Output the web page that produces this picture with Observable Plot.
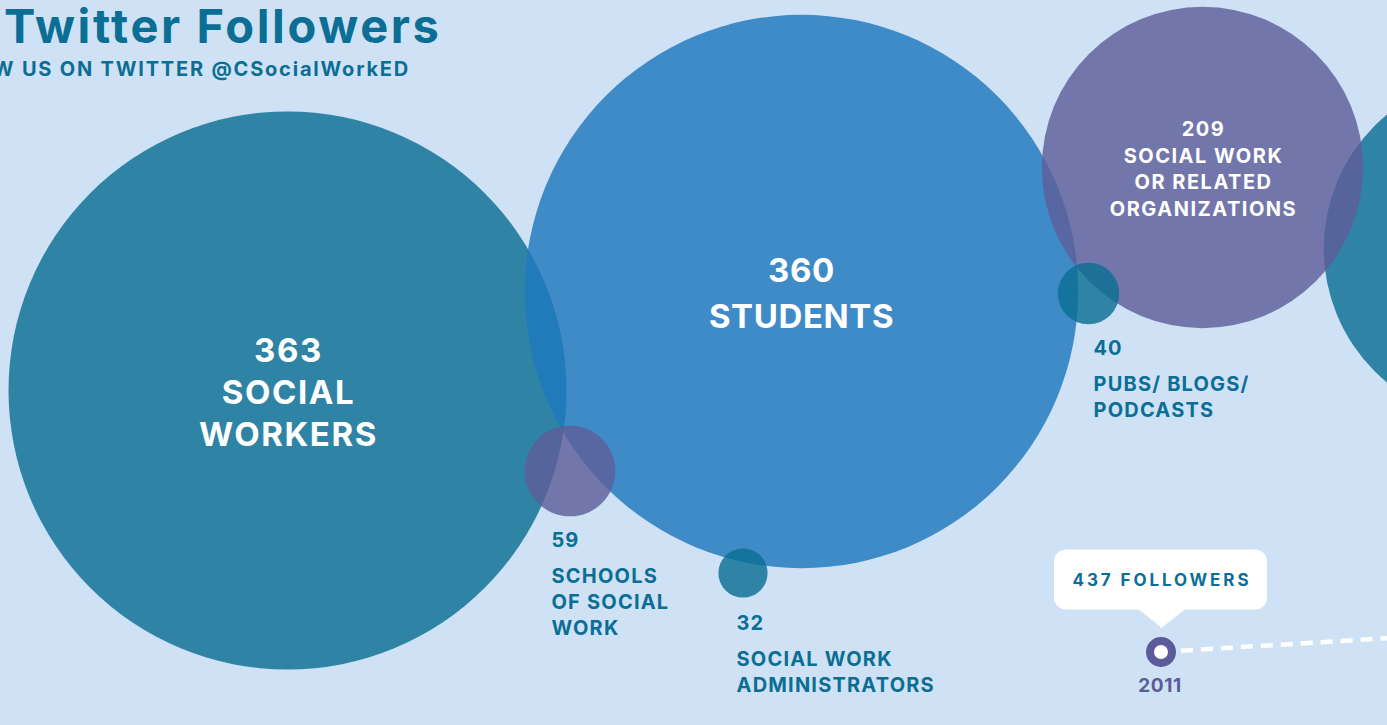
<!DOCTYPE html>
<html>
<head>
<meta charset="utf-8">
<script src="https://cdn.jsdelivr.net/npm/d3@7"></script>
<script src="https://cdn.jsdelivr.net/npm/@observablehq/plot@0.6"></script>
<style>
  html, body { margin: 0; padding: 0; background: #cfe2f5; overflow: hidden; }
  #wrap { position: relative; width: 1387px; height: 725px; overflow: hidden; }
  #wrap svg { position: absolute; left: 0; top: 0; overflow: hidden; }
  .t { position: absolute; font-family: Inter, "Open Sans", sans-serif; font-weight: 700; color: #0b6e94; white-space: nowrap; }
  #title { left: 4px; top: 2px; font-size: 47px; line-height: 47px; letter-spacing: 2.6px; }
  #subtitle { right: 977px; top: 57px; font-size: 20px; line-height: 24px; letter-spacing: 1.8px; }
</style>
</head>
<body>
<div id="wrap">
  <div id="chart"></div>
  <div class="t" id="title">Twitter Followers</div>
  <div class="t" id="subtitle">FOLLOW US ON TWITTER @CSocialWorkED</div>
</div>
<script>
// ---- data ----
const categories = ["Social Workers", "Students", "Social Work or Related Organizations",
  "Schools of Social Work", "Social Work Administrators", "Pubs/ Blogs/ Podcasts", "Next year"];
const followers = [363, 360, 209, 59, 32, 40, 226];
const labels = ["SOCIAL\nWORKERS", "STUDENTS", "SOCIAL WORK\nOR RELATED\nORGANIZATIONS",
  "SCHOOLS\nOF SOCIAL\nWORK", "SOCIAL WORK\nADMINISTRATORS", "PUBS/ BLOGS/\nPODCASTS", ""];
const groups = ["teal", "blue", "purple", "purple", "teal", "teal", "teal"];
const timelineYears = [2011];
const timelineFollowers = [437];

// ---- layout (bubble centres / label anchors in page pixels) ----
const bubbleX = [287, 801, 1202, 569.5, 742.5, 1088, 1497];
const bubbleY = [390, 291, 167, 470.5, 572.5, 293, 248];
const labelPlace = ["big", "big2", "small", "out", "out", "out", "none"];
const outX = [null, null, null, 551, 736, 1093, null];
const outY = [null, null, null, 540, 623, 348, null];
const timelineX = [1160.5];
const timelineY = [651.5];

const palette = {teal: "#0b6f95", blue: "#1f78be", purple: "#5e5e9a"};
const ink = "#0b6e94";
const purpleInk = "#5b5b99";

const bubbles = categories.map((c, i) => ({
  category: c, value: followers[i], label: labels[i], group: groups[i],
  cx: bubbleX[i], cy: bubbleY[i], place: labelPlace[i], ox: outX[i], oy: outY[i]
}));
const timeline = timelineYears.map((y, i) => ({year: y, followers: timelineFollowers[i], x: timelineX[i], y: timelineY[i]}));

const font = "Inter, 'Open Sans', sans-serif";
// letter-spacing for the text marks, in the order they are drawn
const textSpacing = [1.6, 0.6, 1.5, 1, 1.2, 0.6, 2.9];

const chart = Plot.plot({
  width: 1387,
  height: 725,
  margin: 0,
  style: {background: "transparent", fontFamily: font, overflow: "hidden"},
  x: {domain: [0, 1387], range: [0, 1387], axis: null},
  y: {domain: [0, 725], range: [0, 725], axis: null},
  r: {type: "linear", domain: [0, 363], range: [0, 279]},
  marks: [
    // bubbles (sorted by descending radius by default)
    Plot.dot(bubbles, {x: "cx", y: "cy", r: "value", fill: d => palette[d.group], fillOpacity: 0.82, stroke: null}),
    // inside labels
    Plot.text(bubbles.filter(d => d.place === "big"), {x: "cx", y: "cy", text: d => d.value + "\n" + d.label,
      fill: "white", fontSize: 33, fontWeight: 700, lineHeight: 1.27, dy: 0, dx: 1}),
    Plot.text(bubbles.filter(d => d.place === "big2"), {x: "cx", y: "cy", text: d => d.value + "\n" + d.label,
      fill: "white", fontSize: 33, fontWeight: 700, lineHeight: 1.4, dy: -1}),
    Plot.text(bubbles.filter(d => d.place === "small"), {x: "cx", y: "cy", text: d => d.value + "\n" + d.label,
      fill: "white", fontSize: 20, fontWeight: 700, lineHeight: 1.33, dy: 0, dx: 1}),
    // outside labels
    Plot.text(bubbles.filter(d => d.place === "out"), {x: "ox", y: "oy", text: d => String(d.value),
      fill: ink, fontSize: 20, fontWeight: 700, textAnchor: "start"}),
    Plot.text(bubbles.filter(d => d.place === "out"), {x: "ox", y: d => d.oy + 24, text: "label",
      fill: ink, fontSize: 20, fontWeight: 700, textAnchor: "start", lineAnchor: "top", lineHeight: 1.3}),
    // timeline
    Plot.link(timeline, {x1: "x", y1: "y", x2: d => d.x + 440, y2: d => d.y - 27,
      stroke: "white", strokeWidth: 4.5, strokeDasharray: "12,8"}),
    Plot.dot(timeline, {x: "x", y: "y", r: 11, fill: "white", stroke: purpleInk, strokeWidth: 8}),
    Plot.text(timeline, {x: "x", y: d => d.y + 34, text: d => String(d.year), fill: purpleInk, fontSize: 19, fontWeight: 700, dx: -1}),
    // callout
    Plot.rect(timeline, {x1: d => d.x - 106.5, x2: d => d.x + 106.5, y1: d => d.y - 102, y2: d => d.y - 42, fill: "white", rx: 12}),
    Plot.line(timeline.flatMap(d => [[-23, -43], [23, -43], [0, -25]].map(p => ({x: d.x + p[0], y: d.y + p[1]}))),
      {x: "x", y: "y", fill: "white", stroke: "white", strokeWidth: 2, strokeLinejoin: "round"}),
    Plot.text(timeline, {x: "x", y: d => d.y - 71, text: d => d.followers + " FOLLOWERS", fill: ink, fontSize: 17, fontWeight: 700, dx: 1})
  ]
});
const textGroups = chart.querySelectorAll('g[aria-label="text"]');
textGroups.forEach((g, i) => {
  const ls = textSpacing[i] ?? 0;
  g.style.letterSpacing = ls + "px";
  g.querySelectorAll("text, tspan").forEach(t => t.style.letterSpacing = ls + "px");
});
document.getElementById("chart").appendChild(chart);
</script>
</body>
</html>
